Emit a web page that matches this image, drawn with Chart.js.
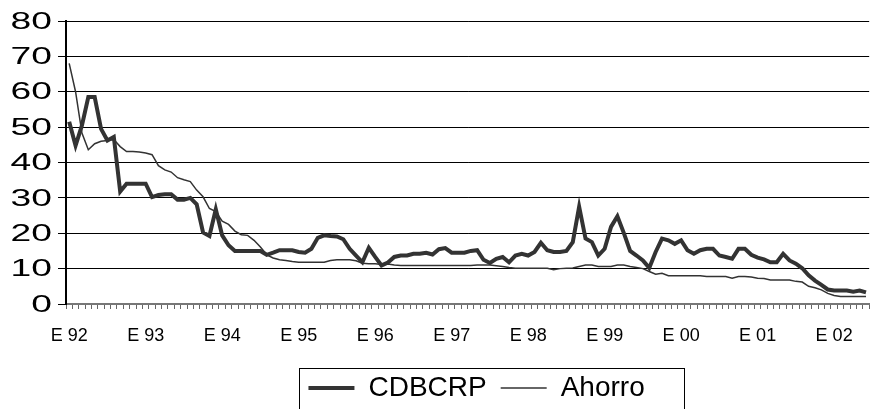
<!DOCTYPE html>
<html>
<head>
<meta charset="utf-8">
<script src="https://cdn.jsdelivr.net/npm/chart.js@4"></script>
<style>
  html, body { margin: 0; padding: 0; background: #fff; }
  #caja { width: 882px; height: 409px; }
</style>
</head>
<body>
<div id="caja"><canvas id="grafico"></canvas></div>
<script>
// años y meses (E = enero) para las categorias del eje x
const anios = ['92', '93', '94', '95', '96', '97', '98', '99', '00', '01', '02'];
const letrasMes = ['E', 'F', 'M', 'A', 'M', 'J', 'J', 'A', 'S', 'O', 'N', 'D'];
const mesesUltimoAnio = 6; // la serie llega hasta junio 02

// valores, una fila por año
const cdbcrp = [
    51.5, 44.8, 50.5, 58.5, 58.5, 49.5, 46.2, 47.2, 31.8, 34.0, 34.0, 34.0,
    34.0, 30.2, 30.8, 31.0, 31.0, 29.5, 29.5, 30.0, 28.2, 20.2, 19.2, 26.8,
    19.4, 16.6, 15.0, 15.0, 15.0, 15.0, 15.0, 13.9, 14.5, 15.2, 15.2, 15.2,
    14.7, 14.5, 15.6, 18.7, 19.4, 19.2, 19.1, 18.3, 15.6, 13.7, 11.8, 15.9,
    13.3, 10.9, 11.7, 13.3, 13.7, 13.7, 14.2, 14.2, 14.5, 14.0, 15.5, 15.8,
    14.5, 14.5, 14.5, 15.0, 15.2, 12.5, 11.6, 12.8, 13.3, 11.8, 13.7, 14.2,
    13.7, 14.7, 17.3, 15.2, 14.7, 14.7, 15.0, 17.5, 27.5, 18.5, 17.5, 13.7,
    15.6, 21.8, 24.8, 20.1, 15.0, 13.7, 12.3, 10.2, 14.7, 18.5, 18.0, 17.0,
    18.0, 15.2, 14.2, 15.2, 15.6, 15.6, 13.7, 13.3, 12.8, 15.6, 15.6, 13.9,
    13.1, 12.6, 11.8, 11.8, 14.2, 12.3, 11.4, 10.1, 8.1, 6.6, 5.4, 4.1,
    3.8, 3.8, 3.8, 3.5, 3.8, 3.3
];

const ahorro = [
    68.0, 60.0, 48.3, 43.6, 45.3, 46.0, 46.2, 46.5, 44.5, 43.1, 43.1, 43.0,
    42.7, 42.2, 39.1, 37.9, 37.3, 35.7, 35.1, 34.6, 32.2, 30.3, 27.0, 26.1,
    23.4, 22.5, 20.6, 19.6, 19.4, 18.0, 16.1, 13.9, 13.0, 12.5, 12.3, 12.0,
    11.8, 11.8, 11.8, 11.8, 11.8, 12.3, 12.5, 12.5, 12.5, 12.2, 11.5, 11.4,
    11.4, 11.2, 11.3, 11.0, 10.9, 10.9, 10.9, 10.9, 10.9, 10.9, 10.9, 10.9,
    10.9, 10.9, 10.9, 10.9, 11.0, 11.0, 11.0, 10.8, 10.6, 10.3, 10.1, 10.1,
    10.1, 10.1, 10.1, 10.1, 9.7, 10.0, 10.1, 10.2, 10.6, 11.0, 11.0, 10.6,
    10.6, 10.6, 11.0, 11.0, 10.6, 10.3, 10.0, 9.2, 8.4, 8.7, 8.0, 8.0,
    8.0, 8.0, 8.0, 8.0, 7.8, 7.8, 7.8, 7.8, 7.3, 7.8, 7.8, 7.6,
    7.3, 7.2, 6.8, 6.8, 6.8, 6.8, 6.4, 6.2, 5.0, 4.6, 4.0, 3.0,
    2.4, 2.1, 2.1, 2.1, 2.1, 2.1
];

const ticksY = [0, 10, 20, 30, 40, 50, 60, 70, 80];

// armar las etiquetas "E 92", "F 92", ...
const meses = [];
anios.forEach((a, i) => {
    const n = i === anios.length - 1 ? mesesUltimoAnio : 12;
    for (let m = 0; m < n; m++) meses.push(letrasMes[m] + ' ' + a);
});

const fuente = '"Liberation Sans", Arial, sans-serif';

// los numeros del eje y salen anchos en el original, se dibujan estirados
const etiquetasY = {
    id: 'etiquetasY',
    afterDraw(chart) {
        const esc = chart.scales.y;
        const ctx = chart.ctx;
        ctx.save();
        ctx.font = '24px ' + fuente;
        ctx.fillStyle = '#000';
        ctx.textAlign = 'right';
        ctx.textBaseline = 'middle';
        esc.ticks.forEach(t => {
            ctx.save();
            ctx.translate(esc.right - 14, esc.getPixelForValue(t.value) + 1);
            ctx.scale(1.55, 1);
            ctx.fillText(String(t.value), 0, 0);
            ctx.restore();
        });
        ctx.restore();
    }
};

// la leyenda va un poco a la derecha y con marco
const desplazamiento = 9;
const marcoLeyenda = {
    id: 'marcoLeyenda',
    afterUpdate(chart) {
        const ley = chart.legend;
        ley.left += desplazamiento;
        ley.right += desplazamiento;
        (ley.legendHitBoxes || []).forEach(c => { c.left += desplazamiento; });
    },
    afterDraw(chart) {
        const cajas = chart.legend.legendHitBoxes;
        if (!cajas || !cajas.length) return;
        const ultima = cajas[cajas.length - 1];
        const x1 = cajas[0].left - 9;
        const x2 = ultima.left + ultima.width + 40;
        const y1 = cajas[0].top - 6;
        const ctx = chart.ctx;
        ctx.save();
        ctx.strokeStyle = '#000';
        ctx.lineWidth = 1;
        ctx.strokeRect(Math.round(x1) + 0.5, Math.round(y1) + 0.5, Math.round(x2 - x1), 80);
        ctx.restore();
    }
};

new Chart(document.getElementById('grafico'), {
    type: 'line',
    data: {
        labels: meses,
        datasets: [
            {
                label: 'CDBCRP',
                data: cdbcrp,
                borderColor: '#333333',
                backgroundColor: '#333333',
                borderWidth: 4,
                pointRadius: 0,
                tension: 0,
                borderJoinStyle: 'miter'
            },
            {
                label: 'Ahorro',
                data: ahorro,
                borderColor: '#333333',
                backgroundColor: '#333333',
                borderWidth: 1.5,
                pointRadius: 0,
                tension: 0
            }
        ]
    },
    options: {
        responsive: true,
        maintainAspectRatio: false,
        animation: false,
        layout: { padding: { top: 21, right: 1, left: 0, bottom: -3 } },
        plugins: {
            tooltip: { enabled: false },
            legend: {
                position: 'bottom',
                fullSize: false,
                labels: {
                    usePointStyle: true,
                    pointStyle: 'line',
                    pointStyleWidth: 46,
                    padding: 14,
                    color: '#000',
                    font: { family: fuente, size: 28 }
                }
            }
        },
        scales: {
            x: {
                offset: true,
                grid: {
                    display: true,
                    offset: true,
                    drawOnChartArea: false,
                    drawTicks: true,
                    tickLength: 5,
                    color: '#666'
                },
                border: { color: '#777', width: 2 },
                ticks: {
                    autoSkip: false,
                    maxRotation: 0,
                    minRotation: 0,
                    padding: 16,
                    color: '#000',
                    font: { family: fuente, size: 18 },
                    callback: function (v, i) {
                        const l = meses[i];
                        return l.startsWith('E ') ? l : '';
                    }
                },
                afterFit: function (s) { s.height = 56; }
            },
            y: {
                min: 0,
                max: 80,
                afterBuildTicks: function (s) { s.ticks = ticksY.map(v => ({ value: v })); },
                grid: {
                    color: '#000',
                    lineWidth: 1,
                    drawTicks: true,
                    tickLength: 8
                },
                border: { color: '#000', width: 2 },
                ticks: { display: false },
                afterFit: function (s) { s.width = 66; }
            }
        }
    },
    plugins: [etiquetasY, marcoLeyenda]
});
</script>
</body>
</html>
